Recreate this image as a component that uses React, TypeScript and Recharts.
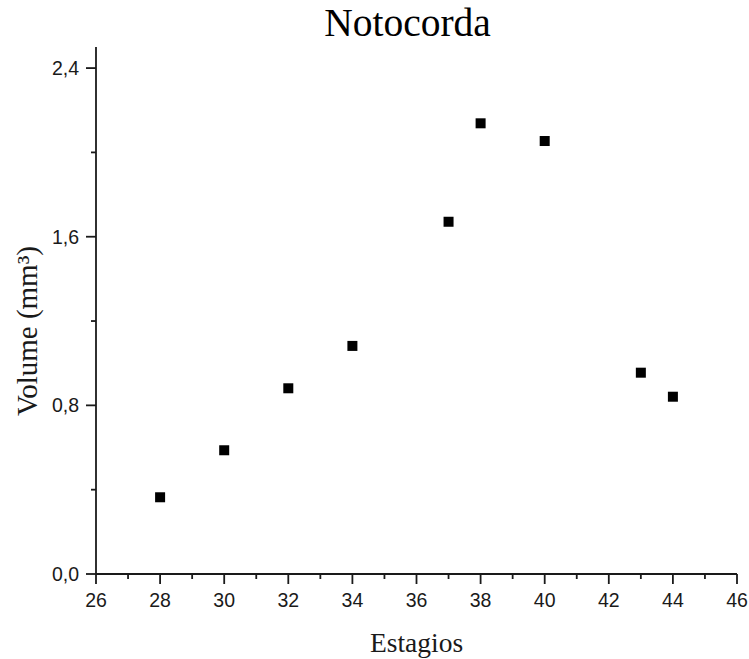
import { ScatterChart, Scatter, XAxis, YAxis } from 'recharts';

// Stage (x) and notochord volume in mm³ (y)
const estagios = [28, 30, 32, 34, 37, 38, 40, 43, 44];
const volumes = [0.364, 0.587, 0.881, 1.082, 1.671, 2.138, 2.054, 0.955, 0.841];

const xTicks = [26, 27, 28, 29, 30, 31, 32, 33, 34, 35, 36, 37, 38, 39, 40, 41, 42, 43, 44, 45, 46];
const xLabeled = [26, 28, 30, 32, 34, 36, 38, 40, 42, 44, 46];
const yTicks = [0, 0.4, 0.8, 1.2, 1.6, 2.0, 2.4];
const yLabeled = [0, 0.8, 1.6, 2.4];

const data = estagios.map((x, i) => ({ x, y: volumes[i] }));

const sans = 'Arial, "Liberation Sans", sans-serif';
const serif = '"Liberation Serif", "Times New Roman", serif';
const ink = '#1a1a1a';

const XTick = (props: any) => {
  const { x, y, payload } = props;
  const major = xLabeled.includes(payload.value);
  return (
    <g>
      <line x1={x} y1={y} x2={x} y2={y + (major ? 10 : 5)} stroke={ink} strokeWidth={1.8} />
      {major && (
        <text x={x} y={y + 33} textAnchor="middle" fontSize={19.5} fontFamily={sans} fill={ink}>
          {payload.value}
        </text>
      )}
    </g>
  );
};

const YTick = (props: any) => {
  const { x, y, payload } = props;
  const major = yLabeled.some((v) => Math.abs(v - payload.value) < 1e-6);
  return (
    <g>
      <line x1={x} y1={y} x2={x - (major ? 10 : 5)} y2={y} stroke={ink} strokeWidth={1.8} />
      {major && (
        <text x={x - 17} y={y + 7} textAnchor="end" fontSize={19.5} fontFamily={sans} fill={ink}>
          {payload.value.toFixed(1).replace('.', ',')}
        </text>
      )}
    </g>
  );
};

const Square = (props: any) => {
  const { cx, cy } = props;
  return <rect x={cx - 5} y={cy - 5} width={10} height={10} fill="#000" />;
};

export default function App() {
  return (
    <div style={{ position: 'absolute', left: 0, top: 0, width: 749, height: 659, background: '#fff' }}>
      <ScatterChart width={749} height={659} margin={{ top: 47, right: 12, bottom: 0, left: 0 }}>
        <XAxis
          type="number"
          dataKey="x"
          domain={[26, 46]}
          ticks={xTicks}
          interval={0}
          height={85}
          tickSize={0}
          tickMargin={0}
          tickLine={false}
          tick={<XTick />}
          axisLine={{ stroke: ink, strokeWidth: 1.8 }}
        />
        <YAxis
          type="number"
          dataKey="y"
          domain={[0, 2.5]}
          ticks={yTicks}
          interval={0}
          width={96}
          tickSize={0}
          tickMargin={0}
          tickLine={false}
          tick={<YTick />}
          axisLine={{ stroke: ink, strokeWidth: 1.8 }}
        />
        <Scatter data={data} fill="#000" shape={<Square />} isAnimationActive={false} />
      </ScatterChart>
      <svg width={749} height={659} style={{ position: 'absolute', left: 0, top: 0, pointerEvents: 'none' }}>
        <text x={407.5} y={36} textAnchor="middle" fontSize={39.5} fontFamily={serif} fill="#000">
          Notocorda
        </text>
        <text x={416.5} y={652} textAnchor="middle" fontSize={27.5} fontFamily={serif} fill={ink}>
          Estagios
        </text>
        <text
          transform="translate(37, 331) rotate(-90)"
          textAnchor="middle"
          fontSize={29}
          fontFamily={serif}
          fill={ink}
        >
          Volume (mm³)
        </text>
      </svg>
    </div>
  );
}
